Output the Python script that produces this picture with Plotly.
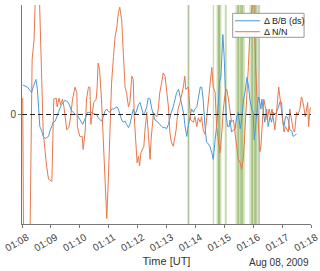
import pandas as pd
import plotly.graph_objects as go

BASE = "2009-08-08 01:08:00"

# Orange: Delta N/N  (seconds after 01:08, value)
n_sec = [1.5, 3, 6, 12, 17, 21, 25, 29, 35, 39, 44, 51, 55, 62, 64, 66, 71, 73, 77, 80, 84, 87, 93, 97, 100, 105, 110, 114, 115, 120, 125, 127, 131, 134, 138, 141, 143, 147, 149, 154, 156, 158, 161, 165, 169, 172, 176, 179, 183, 186, 190, 193, 197, 200, 203, 207, 210, 214, 217, 221, 224, 228, 231, 233, 236, 239, 242, 244, 247, 250, 253, 255, 259, 262, 266, 268, 271, 273, 276, 280, 283, 286, 290, 293, 297, 300, 304, 307, 310, 314, 320, 324, 328, 335, 338, 340, 345, 347, 350, 356, 359, 363, 366, 370, 373, 376, 380, 383, 387, 390, 394, 397, 401, 404, 408, 411, 415, 418, 422, 425, 428, 432, 435, 439, 442, 446, 449, 453, 456, 460, 463, 467, 470, 473, 477, 480, 483, 485, 488, 491, 493, 494, 496, 499, 502, 506, 509, 513, 516, 519, 522, 525, 527, 530, 533, 536, 538, 541, 544, 547, 550, 553, 556, 560, 563, 566, 570, 573, 577, 580, 582, 585, 588, 591, 593, 595, 598, 601]
n_val = [0.15, -0.98, -1.3, -1.3, -0.98, 0.50, 0.68, 1.25, 1.25, 0.59, -0.16, -0.47, -0.59, -0.61, -0.23, 0.14, 0.15, 0.07, 0.15, 0.09, 0.14, 0.07, -0.14, -0.12, -0.05, 0.14, 0.25, 0.20, -0.11, -0.20, -0.20, -0.32, -0.16, 0.14, 0.25, 0.25, -0.09, 0.05, 0.11, 0.14, 0.25, 0.47, 0.41, 0.14, -0.29, -0.62, -0.95, -0.62, -0.11, 0.29, 0.53, 0.70, 0.80, 0.93, 0.98, 0.86, 0.59, 0.25, 0.20, 0.07, 0.11, 0.35, 0.32, -0.02, -0.23, -0.44, -0.38, -0.47, -0.35, -0.32, -0.29, -0.16, 0.02, -0.16, -0.41, -0.23, -0.11, 0.02, 0.00, -0.02, 0.05, 0.20, 0.29, 0.38, 0.35, 0.25, 0.07, -0.16, -0.25, -0.29, -0.14, 0.05, 0.11, 0.25, 0.35, 0.23, 0.25, 0.16, -0.05, -0.07, -0.02, -0.11, -0.03, -0.07, -0.02, -0.14, -0.18, -0.05, 0.11, 0.29, 0.43, 0.25, 0.20, -0.11, -0.23, -0.35, -0.16, 0.05, 0.20, 0.23, 0.16, 0.05, -0.07, -0.05, -0.16, -0.29, -0.41, -0.44, -0.50, -0.38, -0.16, 0.14, 0.44, 0.75, 1.0, 1.1, 0.86, 0.44, 0.14, -0.11, -0.23, -0.34, -0.29, -0.05, 0.14, 0.05, -0.05, 0.05, -0.02, 0.05, -0.05, -0.14, -0.05, 0.14, 0.25, 0.14, 0.05, -0.05, -0.16, -0.11, -0.14, -0.16, 0.05, -0.05, -0.14, -0.16, 0.02, 0.00, 0.05, 0.16, 0.14, 0.07, -0.02, 0.05, 0.11, -0.11, 0.05, 0.07]

# Blue: Delta B/B (ds)
b_sec = [1.5, 6, 11, 17, 20, 23, 27, 29, 32, 34, 37, 41, 44, 48, 51, 55, 58, 62, 65, 69, 72, 75, 79, 82, 86, 89, 93, 96, 100, 103, 107, 110, 114, 117, 120, 124, 126, 129, 132, 136, 139, 143, 147, 152, 155, 158, 162, 165, 169, 172, 176, 179, 183, 186, 190, 193, 197, 200, 203, 207, 210, 214, 217, 221, 224, 228, 231, 235, 238, 242, 245, 248, 252, 255, 259, 262, 266, 269, 273, 276, 280, 283, 286, 290, 293, 297, 300, 304, 307, 310, 314, 318, 321, 325, 329, 332, 336, 338, 342, 345, 349, 352, 356, 359, 363, 366, 370, 373, 376, 380, 383, 387, 390, 394, 397, 401, 404, 408, 410, 413, 415, 417, 420, 422, 424, 427, 430, 432, 435, 439, 442, 446, 449, 453, 456, 460, 463, 467, 470, 473, 477, 480, 482, 485, 489, 492, 496, 498, 501, 504, 508, 511, 515, 518, 522, 525, 528, 532, 536, 539, 541, 544, 547, 550, 553, 556, 560, 563, 566, 570]
b_val = [0.27, 0.26, 0.25, 0.22, 0.20, 0.25, 0.30, 0.32, 0.23, 0.05, -0.11, -0.15, -0.20, -0.22, -0.21, -0.20, -0.15, -0.11, -0.07, -0.06, -0.02, 0.02, 0.06, 0.09, 0.11, 0.13, 0.12, 0.11, 0.07, 0.03, 0.02, 0.00, 0.00, -0.02, -0.05, -0.07, -0.09, -0.06, -0.02, 0.02, 0.02, 0.02, 0.01, 0.00, 0.00, -0.03, -0.05, -0.06, -0.02, 0.03, 0.05, 0.03, 0.02, 0.05, 0.05, 0.06, 0.07, 0.05, 0.00, -0.05, -0.07, -0.06, -0.09, -0.12, -0.09, -0.02, 0.05, 0.00, 0.05, 0.09, 0.11, 0.06, 0.00, 0.02, 0.07, 0.15, 0.14, 0.06, 0.00, -0.05, -0.06, -0.08, -0.09, -0.11, -0.12, -0.12, -0.13, -0.09, -0.03, 0.02, 0.07, 0.14, 0.20, 0.23, 0.14, 0.07, 0.00, -0.09, -0.20, -0.11, -0.02, 0.05, 0.02, 0.05, 0.07, 0.16, 0.25, 0.25, 0.14, -0.11, -0.25, -0.27, -0.29, -0.35, -0.41, -0.23, -0.11, 0.14, 0.29, 0.35, 0.59, 0.73, 0.50, 0.14, -0.02, -0.11, -0.11, -0.05, -0.16, -0.14, -0.14, -0.02, 0.02, -0.13, -0.05, 0.14, 0.20, 0.34, 0.27, 0.14, 0.05, 0.02, -0.23, -0.11, 0.11, 0.16, 0.05, 0.14, 0.02, -0.07, 0.05, -0.11, -0.02, -0.07, 0.02, 0.00, 0.02, 0.06, 0.12, 0.11, -0.05, -0.11, -0.02, -0.02, -0.05, -0.14, -0.15, -0.20, -0.19, -0.18]

# Highlight intervals (seconds after 01:08) and colours
band_start = [343, 345, 396, 404, 407, 421, 443, 447, 453, 472, 476, 482, 490]
band_end = [348, 346.5, 399, 414, 411, 425, 463, 451, 459, 494, 480, 487, 494]
band_color = ["rgba(190,190,190,0.55)", "rgba(120,160,70,0.6)", "rgba(140,180,90,0.45)",
              "rgba(140,180,90,0.45)", "rgba(110,150,60,0.45)", "rgba(140,180,90,0.5)",
              "rgba(150,190,100,0.4)", "rgba(110,150,60,0.45)", "rgba(110,150,60,0.4)",
              "rgba(150,190,100,0.4)", "rgba(110,150,60,0.45)", "rgba(110,150,60,0.45)",
              "rgba(190,190,190,0.6)"]

series_names = ["Δ B/B (ds)", "Δ N/N"]
series_colors = ["#4A9AD8", "#E8784A"]

x_ticks = ["01:08", "01:09", "01:10", "01:11", "01:12", "01:13", "01:14", "01:15", "01:16", "01:17", "01:18"]

base = pd.Timestamp(BASE)
def tt(s):
    return [base + pd.Timedelta(seconds=v) for v in s]

fig = go.Figure()
for s0, s1, c in zip(band_start, band_end, band_color):
    fig.add_vrect(x0=base + pd.Timedelta(seconds=s0), x1=base + pd.Timedelta(seconds=s1),
                  fillcolor=c, line_width=0, layer="below")

fig.add_trace(go.Scatter(x=tt(b_sec), y=b_val, mode="lines", name=series_names[0],
                         line=dict(color=series_colors[0], width=1), showlegend=False))
fig.add_trace(go.Scatter(x=tt(n_sec), y=n_val, mode="lines", name=series_names[1],
                         line=dict(color=series_colors[1], width=1), showlegend=False))

fig.add_shape(type="line", xref="paper", x0=0, x1=1, yref="y", y0=0, y1=0,
              line=dict(color="#222", width=1, dash="5px,3px"))

# compact legend box (MATLAB style)
fig.add_shape(type="rect", xref="paper", yref="paper", x0=0.729, x1=0.976, y0=0.8525, y1=0.962,
              line=dict(color="#999", width=1), fillcolor="white", layer="above")
for i, (nm, col) in enumerate(zip(series_names, series_colors)):
    yy = 0.928 - i * 0.05
    fig.add_shape(type="line", xref="paper", yref="paper", x0=0.737, x1=0.824, y0=yy, y1=yy,
                  line=dict(color=col, width=1), layer="above")
    fig.add_annotation(text=nm, xref="paper", yref="paper", x=0.829, y=yy, xanchor="left",
                       yanchor="middle", showarrow=False,
                       font=dict(family="Liberation Sans, Arial", size=9, color="#222"))

tickvals = [pd.Timestamp("2009-08-08 " + t) for t in x_ticks]
fig.update_xaxes(range=[tickvals[0], tickvals[-1]], tickvals=tickvals, ticktext=x_ticks,
                 tickangle=-30, showgrid=False, zeroline=False, showline=True, automargin=False,
                 ticklabeloverflow="allow", ticklabelshift=5,
                 linecolor="#777", linewidth=1, ticks="outside", ticklen=3, tickcolor="#777",
                 tickfont=dict(family="Liberation Sans, Arial", size=10, color="#444"),
                 title=dict(text="Time [UT]", font=dict(family="Liberation Sans, Arial", size=11, color="#333"), standoff=4))
fig.update_yaxes(range=[-1, 1], tickvals=[0], ticktext=["0"], showgrid=False, zeroline=False,
                 showline=True, linecolor="#777", linewidth=1, ticks="outside", ticklen=3, automargin=False,
                 tickcolor="#777", tickfont=dict(family="Liberation Sans, Arial", size=10, color="#444"))

fig.add_annotation(text="Aug 08, 2009", xref="paper", yref="paper", x=0.89, y=-0.14,
                   xanchor="center", yanchor="top", showarrow=False,
                   font=dict(family="Liberation Sans, Arial", size=10, color="#333"))

fig.update_layout(width=320, height=271, margin=dict(l=22, r=9, t=5, b=47, autoexpand=False),
                  plot_bgcolor="white", paper_bgcolor="white", showlegend=False)
fig.write_html("out.html", config={"displayModeBar": False},
               post_script="document.body.style.margin='0';document.body.style.overflow='hidden';")
